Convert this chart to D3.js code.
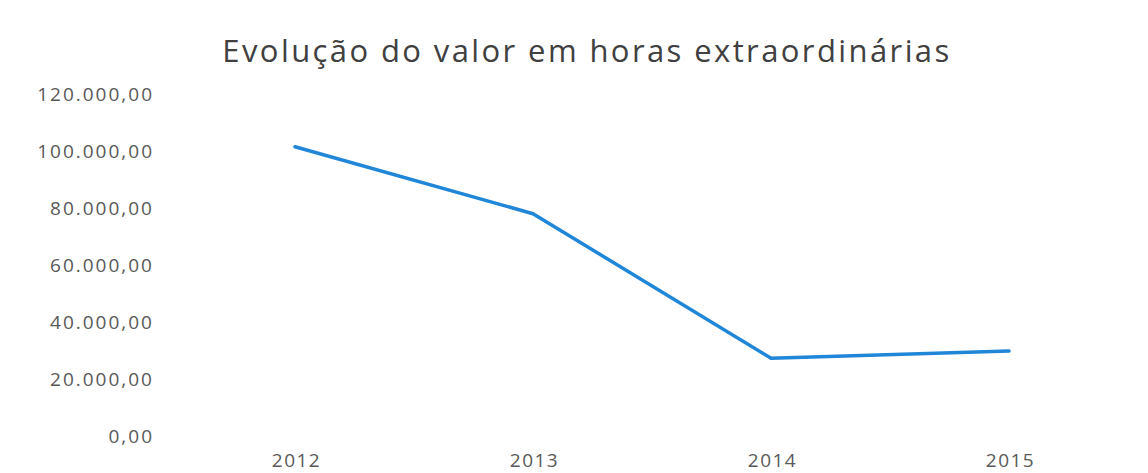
<!DOCTYPE html>
<html><head><meta charset="utf-8">
<script src="https://cdn.jsdelivr.net/npm/d3@7"></script>
<style>body{margin:0;background:#fff;} svg{display:block;}</style>
</head><body>
<svg id="c" width="1148" height="473"></svg>
<script>
const years = ["2012","2013","2014","2015"];
const values = [101500, 78000, 27300, 29800];
const yTicks = [0,20000,40000,60000,80000,100000,120000];
const title = "Evolução do valor em horas extraordinárias";

const svg = d3.select("#c");
const x = d3.scalePoint().domain(years).range([176,1128]).padding(0.5);
const y = d3.scaleLinear().domain([0,120000]).range([436,94]);
const fmt = v => d3.format(",.2f")(v).replace(/,/g,"#").replace(/\./g,",").replace(/#/g,".");

svg.append("text").attr("x",587).attr("y",62).attr("text-anchor","middle")
  .attr("font-family","Open Sans, sans-serif").attr("font-size",31).attr("fill","#404040")
  .attr("letter-spacing",2.4)
  .text(title);

const ya = svg.append("g").attr("transform","translate(154,0)")
  .call(d3.axisLeft(y).tickValues(yTicks).tickFormat(fmt).tickSize(0).tickPadding(0));
ya.select(".domain").remove();
ya.selectAll("text").attr("font-family","Open Sans, sans-serif").attr("font-size",19)
  .attr("letter-spacing",2).attr("fill","#595959");

const xa = svg.append("g").attr("transform","translate(0,449)")
  .call(d3.axisBottom(x).tickSize(0).tickPadding(4));
xa.select(".domain").remove();
xa.selectAll("text").attr("font-family","Open Sans, sans-serif").attr("font-size",19)
  .attr("letter-spacing",1.5).attr("dx",1).attr("fill","#595959");

const line = d3.line().x((d,i)=>x(years[i])).y(d=>y(d));
svg.append("path").datum(values).attr("d",line).attr("fill","none")
  .attr("stroke","#1f86d8").attr("stroke-width",3.5).attr("stroke-linejoin","round").attr("stroke-linecap","round");
</script>
</body></html>
